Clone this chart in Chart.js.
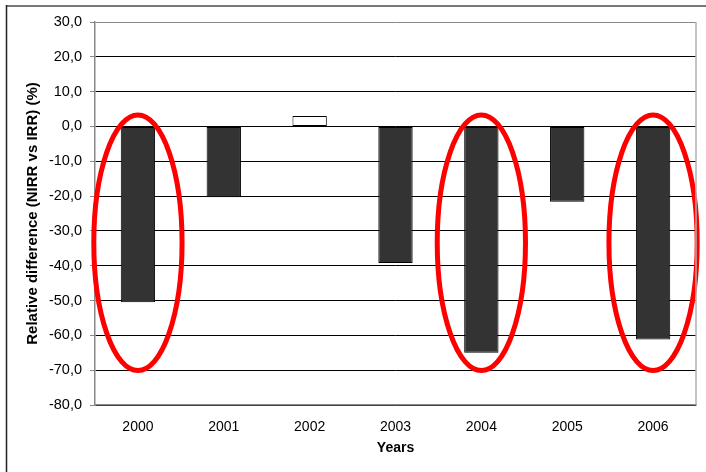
<!DOCTYPE html>
<html>
<head>
<meta charset="utf-8">
<script src="https://cdn.jsdelivr.net/npm/chart.js@4"></script>
<style>
  body { margin: 0; background: #fff; }
  canvas { display: block; }
</style>
</head>
<body>
<canvas id="myChart" width="706" height="472"></canvas>
<script>
const years = ['2000', '2001', '2002', '2003', '2004', '2005', '2006']
const relDiff = [-50.5, -20.3, 3.0, -39.2, -65.0, -21.6, -61.2]
const circledYears = ['2000', '2004', '2006']
// ellipse vertical extent in data units
const ellipseTop = 3.3
const ellipseBottom = -70.1

const fontFam = '"Liberation Sans", Arial, sans-serif'

// frame around the whole figure (only top and left edges are visible)
const framePlugin = {
    id: 'frame',
    beforeDraw(chart) {
        const ctx = chart.ctx
        ctx.save()
        ctx.fillStyle = '#fff'
        ctx.fillRect(0, 0, chart.width, chart.height)
        ctx.strokeStyle = '#777'
        ctx.lineWidth = 2
        ctx.beginPath()
        ctx.moveTo(6, 6)
        ctx.lineTo(chart.width, 6)
        ctx.stroke()
        ctx.strokeStyle = '#222'
        ctx.lineWidth = 1.5
        ctx.beginPath()
        ctx.moveTo(6.5, 5)
        ctx.lineTo(6.5, chart.height)
        ctx.stroke()
        ctx.restore()
    },
    afterDraw(chart) {
        // right edge of plot box
        const a = chart.chartArea
        const ctx = chart.ctx
        ctx.save()
        ctx.strokeStyle = '#b0b0b0'
        ctx.lineWidth = 1.5
        ctx.beginPath()
        ctx.moveTo(a.right, a.top)
        ctx.lineTo(a.right, a.bottom)
        ctx.stroke()
        ctx.restore()
    }
}

const ellipsePlugin = {
    id: 'ellipses',
    afterDatasetsDraw(chart) {
        const x = chart.scales.x
        const y = chart.scales.y
        const ctx = chart.ctx
        const catW = (x.right - x.left) / years.length
        ctx.save()
        ctx.strokeStyle = '#ff0000'
        ctx.lineWidth = 5
        for (let yr of circledYears) {
            const cx = x.getPixelForValue(years.indexOf(yr))
            const top = y.getPixelForValue(ellipseTop)
            const bot = y.getPixelForValue(ellipseBottom)
            ctx.beginPath()
            ctx.ellipse(cx, (top + bot) / 2, catW * 0.514, (bot - top) / 2, 0, 0, Math.PI * 2)
            ctx.stroke()
        }
        ctx.restore()
    }
}

let chartContext = document.getElementById('myChart').getContext('2d')

const myChart = new Chart(chartContext, {
    type: 'bar',
    data: {
        labels: years,
        datasets: [{
            data: relDiff,
            backgroundColor: relDiff.map(v => v >= 0 ? '#ffffff' : '#333333'),
            borderColor: '#000',
            borderWidth: 1,
            borderSkipped: false,
            barPercentage: 0.4,
            categoryPercentage: 1.0
        }]
    },
    options: {
        responsive: false,
        animation: false,
        layout: {
            padding: {top: 22, right: 10, bottom: 0, left: 0}
        },
        plugins: {
            legend: {display: false},
            tooltip: {enabled: false}
        },
        scales: {
            x: {
                grid: {display: false, drawTicks: false},
                border: {color: '#888', width: 1.5},
                ticks: {
                    color: '#000',
                    padding: 14,
                    font: {family: fontFam, size: 14}
                },
                title: {
                    display: true,
                    text: 'Years',
                    color: '#000',
                    font: {family: fontFam, size: 14, weight: 'bold'},
                    padding: {top: 0, bottom: 15.5}
                },
                afterFit(scale) { scale.height = 67 }
            },
            y: {
                min: -80,
                max: 30,
                grid: {
                    color: ctx => (ctx.tick && ctx.tick.value === 30) ? '#888' : '#000',
                    tickColor: '#888',
                    tickLength: 5,
                    lineWidth: 1
                },
                border: {color: '#888', width: 1.5},
                ticks: {
                    stepSize: 10,
                    color: '#000',
                    padding: 8,
                    font: {family: fontFam, size: 14.5},
                    callback: v => v.toFixed(1).replace('.', ',')
                },
                title: {
                    display: true,
                    text: 'Relative difference (NIRR vs IRR) (%)',
                    color: '#000',
                    font: {family: fontFam, size: 15, weight: 'bold'},
                    padding: {top: 24, bottom: 0}
                },
                afterFit(scale) { scale.width = 95 }
            }
        }
    },
    plugins: [framePlugin, ellipsePlugin]
})
</script>
</body>
</html>
